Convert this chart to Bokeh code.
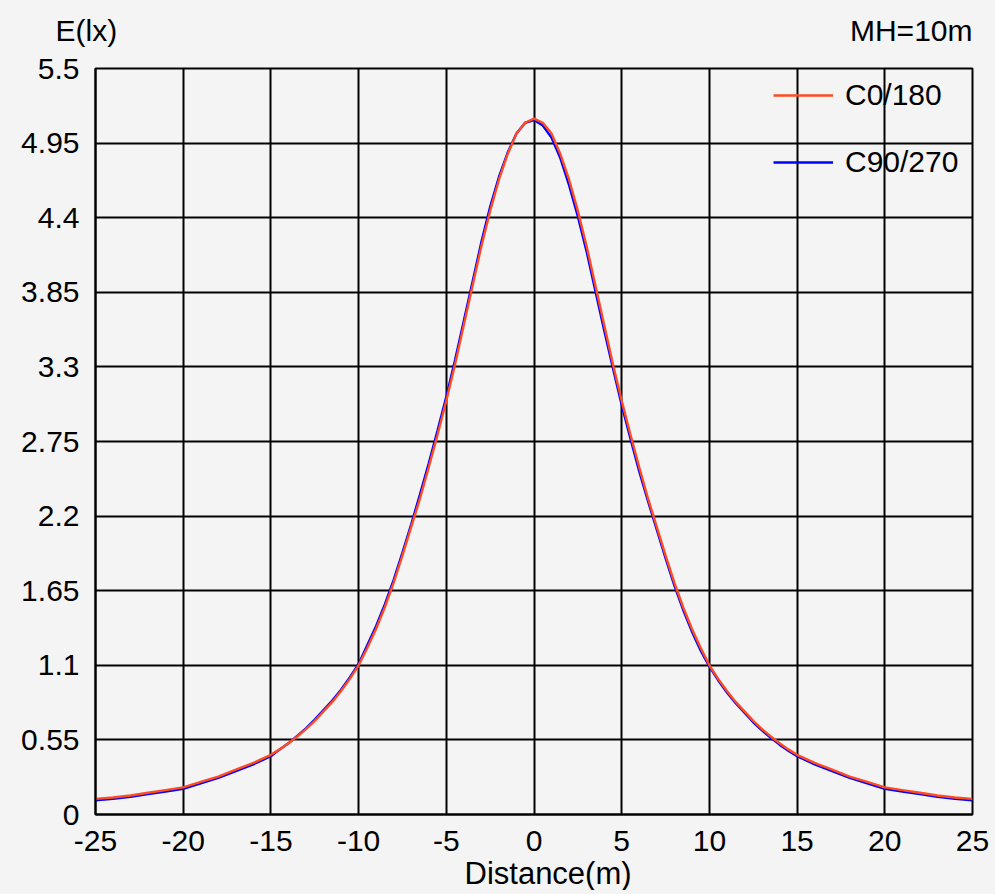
from bokeh.plotting import figure
from bokeh.models import (ColumnDataSource, FixedTicker, Legend, LegendItem, Title,
                          Range1d, GlobalInlineStyleSheet)
from bokeh.embed import file_html
from bokeh.resources import INLINE

# ---- data ----
distance = [-25, -24, -23, -22, -21, -20, -19, -18, -17, -16, -15,
            -14.5, -14, -13.5, -13, -12.5, -12, -11.5, -11, -10.5, -10,
            -9.5, -9, -8.5, -8, -7.5, -7, -6.5, -6, -5.5, -5,
            -4.5, -4, -3.5, -3, -2.5, -2, -1.5, -1, -0.5, 0,
            0.5, 1, 1.5, 2, 2.5, 3, 3.5, 4, 4.5, 5,
            5.5, 6, 6.5, 7, 7.5, 8, 8.5, 9, 9.5, 10,
            10.5, 11, 11.5, 12, 12.5, 13, 13.5, 14, 14.5,
            15, 16, 17, 18, 19, 20, 21, 22, 23, 24, 25]

c0_180 = [0.115, 0.125, 0.14, 0.16, 0.18, 0.20, 0.24, 0.28, 0.33, 0.38, 0.44,
          0.48, 0.525, 0.575, 0.63, 0.69, 0.76, 0.83, 0.91, 1.00, 1.10,
          1.23, 1.37, 1.53, 1.71, 1.91, 2.12, 2.33, 2.56, 2.80, 3.05,
          3.32, 3.61, 3.90, 4.19, 4.45, 4.68, 4.87, 5.02, 5.10, 5.13,
          5.10, 5.02, 4.87, 4.68, 4.45, 4.19, 3.90, 3.61, 3.32, 3.05,
          2.80, 2.56, 2.33, 2.12, 1.91, 1.71, 1.53, 1.37, 1.23, 1.10,
          1.00, 0.91, 0.83, 0.76, 0.69, 0.63, 0.575, 0.525, 0.48,
          0.44, 0.38, 0.33, 0.28, 0.24, 0.20, 0.18, 0.16, 0.14, 0.125, 0.115]

c90_270 = [0.105, 0.115, 0.13, 0.15, 0.17, 0.19, 0.23, 0.27, 0.32, 0.37, 0.43,
           0.48, 0.525, 0.58, 0.635, 0.70, 0.77, 0.84, 0.92, 1.01, 1.11,
           1.25, 1.39, 1.55, 1.73, 1.93, 2.14, 2.36, 2.59, 2.83, 3.08,
           3.35, 3.64, 3.93, 4.22, 4.48, 4.70, 4.88, 5.02, 5.10, 5.12,
           5.08, 4.99, 4.84, 4.64, 4.41, 4.15, 3.86, 3.57, 3.29, 3.02,
           2.77, 2.53, 2.31, 2.10, 1.89, 1.69, 1.51, 1.35, 1.21, 1.09,
           0.99, 0.90, 0.82, 0.75, 0.68, 0.62, 0.565, 0.515, 0.47,
           0.43, 0.37, 0.32, 0.27, 0.23, 0.19, 0.17, 0.15, 0.13, 0.115, 0.105]

x_ticks = [-25, -20, -15, -10, -5, 0, 5, 10, 15, 20, 25]
x_tick_labels = ["-25", "-20", "-15", "-10", "-5", "0", "5", "10", "15", "20", "25"]
y_ticks = [0, 0.55, 1.1, 1.65, 2.2, 2.75, 3.3, 3.85, 4.4, 4.95, 5.5]
y_tick_labels = ["0", "0.55", "1.1", "1.65", "2.2", "2.75", "3.3", "3.85", "4.4", "4.95", "5.5"]

series_names = ["C0/180", "C90/270"]
series_colors = ["#ff4a22", "#0000ff"]

FONT = "Liberation Sans"
FS = "30px"
BG = "#f4f4f4"

p = figure(width=990, height=890, output_backend="svg", toolbar_location=None,
           x_range=Range1d(-25, 25), y_range=Range1d(0, 5.5),
           min_border_left=95, min_border_right=18, min_border_top=68, min_border_bottom=75,
           background_fill_color=BG, border_fill_color=BG)
p.stylesheets = [GlobalInlineStyleSheet(css="html, body { background-color: #f4f4f4; }")]

p.outline_line_color = "black"
p.outline_line_width = 2

src = ColumnDataSource(dict(x=distance, c0=c0_180, c90=c90_270))
r_blue = p.line("x", "c90", source=src, line_color=series_colors[1], line_width=2.4)
r_red = p.line("x", "c0", source=src, line_color=series_colors[0], line_width=2.4)

# axes
p.xaxis.ticker = FixedTicker(ticks=x_ticks)
p.yaxis.ticker = FixedTicker(ticks=y_ticks)
p.xaxis.major_label_overrides = {t: s for t, s in zip(x_ticks, x_tick_labels)}
p.yaxis.major_label_overrides = {t: s for t, s in zip(y_ticks, y_tick_labels)}
for ax in (p.xaxis, p.yaxis):
    ax.major_tick_line_color = None
    ax.minor_tick_line_color = None
    ax.major_tick_out = 0
    ax.major_tick_in = 0
    ax.minor_tick_out = 0
    ax.minor_tick_in = 0
    ax.axis_line_color = "black"
    ax.axis_line_width = 2
    ax.major_label_text_font = FONT
    ax.major_label_text_font_size = FS
    ax.major_label_text_color = "black"
p.xaxis.major_label_standoff = 16
p.yaxis.major_label_standoff = 16

p.xgrid.ticker = FixedTicker(ticks=x_ticks)
p.ygrid.ticker = FixedTicker(ticks=y_ticks)
p.grid.grid_line_color = "black"
p.grid.grid_line_width = 2
p.grid.grid_line_alpha = 1

# texts
t_e = Title(text="E(lx)", align="left", offset=-40, standoff=-110, vertical_align="top",
            text_font=FONT, text_font_size=FS, text_font_style="normal", text_color="black")
t_mh = Title(text="MH=10m", align="right", standoff=-110, vertical_align="top",
             text_font=FONT, text_font_size=FS, text_font_style="normal", text_color="black")
p.add_layout(t_e, "above")
p.add_layout(t_mh, "above")
t_x = Title(text="Distance(m)", align="left", offset=369, standoff=0,
            text_font=FONT, text_font_size="31px", text_font_style="normal", text_color="black")
p.add_layout(t_x, "below")

legend = Legend(items=[LegendItem(label=series_names[0], renderers=[r_red]),
                       LegendItem(label=series_names[1], renderers=[r_blue])],
                location=(678, 632), padding=0, margin=0, spacing=27,
                glyph_width=60, glyph_height=40, label_standoff=12,
                label_text_font=FONT, label_text_font_size=FS, label_text_color="black",
                border_line_color=None, background_fill_alpha=0)
p.add_layout(legend, "center")

open("out.html", "w").write(file_html(p, INLINE))
